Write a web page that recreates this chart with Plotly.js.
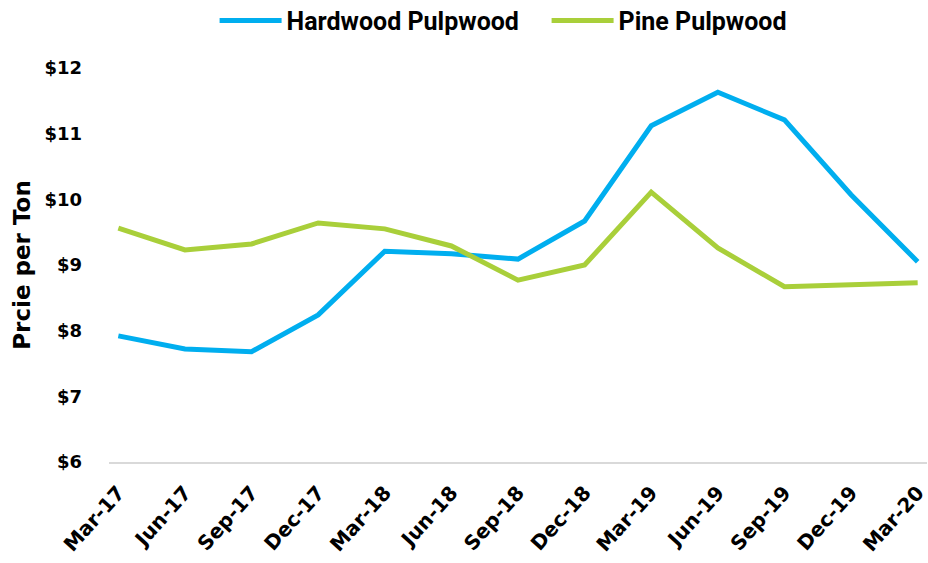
<!DOCTYPE html>
<html><head><meta charset="utf-8">
<script src="https://cdn.plot.ly/plotly-3.0.1.min.js"></script>
<style>html,body{margin:0;padding:0;background:#fff}#chart{width:928px;height:563px}</style>
</head><body><div id="chart"></div>
<script>
const categories = ["Mar-17","Jun-17","Sep-17","Dec-17","Mar-18","Jun-18","Sep-18","Dec-18","Mar-19","Jun-19","Sep-19","Dec-19","Mar-20"];
const hardwood = [7.92,7.72,7.68,8.24,9.21,9.17,9.09,9.67,11.12,11.63,11.21,10.07,9.05];
const pine = [9.56,9.23,9.32,9.64,9.55,9.29,8.77,9.00,10.11,9.26,8.67,8.70,8.73];
const yTicks = [6,7,8,9,10,11,12];
const yTickLabels = ["$6","$7","$8","$9","$10","$11","$12"];
const idx = categories.map((c,i)=>i);
const F = "DejaVu Sans, Arial, sans-serif";
const FL = "Roboto, Arial, sans-serif";
const traces = [
 {x: idx, y: hardwood, name: "Hardwood Pulpwood", type: "scatter", mode: "lines", line: {color: "#00AEEF", width: 5}},
 {x: idx, y: pine, name: "Pine Pulpwood", type: "scatter", mode: "lines", line: {color: "#A9CF3A", width: 5}}
];
const layout = {
 width: 928, height: 563,
 margin: {l: 109, r: 1, t: 68, b: 101, autoexpand: false},
 paper_bgcolor: "#fff", plot_bgcolor: "#fff",
 font: {family: F, color: "#000", size: 16, weight: 700},
 showlegend: true,
 legend: {orientation: "h", x: 0.589, xanchor: "center", xref: "container", y: 0.963, yref: "container", yanchor: "middle",
   font: {size: 25, family: FL, weight: 700}, itemwidth: 62, entrywidth: 255, entrywidthmode: "pixels", traceorder: "normal"},
 xaxis: {range: [-0.14, 12.14], tickmode: "array", tickvals: idx, ticktext: categories, tickangle: -48,
   showgrid: false, zeroline: false, showline: true, linecolor: "#d9d9d9", linewidth: 2, ticks: "",
   ticklabelstandoff: 9, ticklabelshift: 0, ticklabeloverflow: "allow",
   tickfont: {size: 20, family: F, weight: 700}, fixedrange: true, automargin: false},
 yaxis: {range: [6, 12], tickmode: "array", tickvals: yTicks, ticktext: yTickLabels, showgrid: false,
   zeroline: false, showline: false, ticks: "", ticklabelstandoff: 26, automargin: false,
   tickfont: {size: 18, family: F, weight: 700},
   title: {text: "Prcie per Ton", font: {size: 23, family: F, weight: 700}, standoff: 7}}
};
Plotly.newPlot("chart", traces, layout, {displayModeBar: false, staticPlot: true});
</script></body></html>
